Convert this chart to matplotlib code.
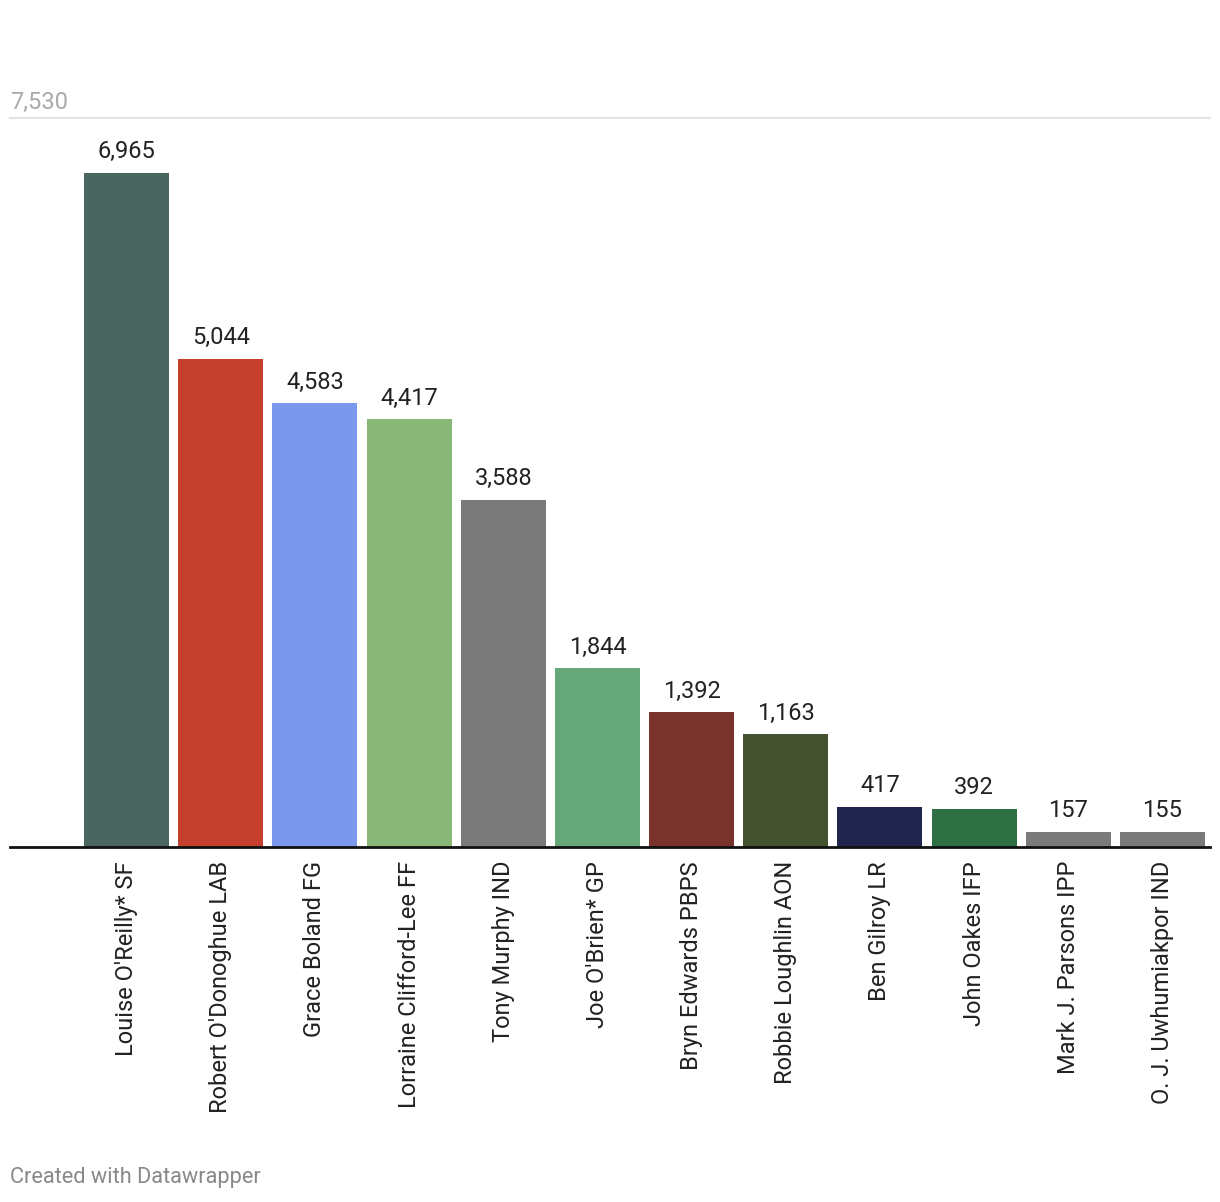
import matplotlib.pyplot as plt

plt.rcParams['font.family'] = ['Roboto', 'DejaVu Sans']

# candidates and first preference votes
candidates = ["Louise O'Reilly* SF", "Robert O'Donoghue LAB", "Grace Boland FG",
              "Lorraine Clifford-Lee FF", "Tony Murphy IND", "Joe O'Brien* GP",
              "Bryn Edwards PBPS", "Robbie Loughlin AON", "Ben Gilroy LR",
              "John Oakes IFP", "Mark J. Parsons IPP", "O. J. Uwhumiakpor IND"]
votes = [6965, 5044, 4583, 4417, 3588, 1844, 1392, 1163, 417, 392, 157, 155]
colors = ["#4a6660", "#c53f2f", "#7a99ee", "#89b777", "#7a7a7a", "#67a87a",
          "#79332c", "#44532d", "#20254f", "#2e6f43", "#7a7a7a", "#7a7a7a"]
y_max = 7530

W, H = 1220, 1202
fig = plt.figure(figsize=(W / 100, H / 100), dpi=100)
ax = fig.add_axes([10 / W, (H - 847) / H, 1200 / W, (847 - 118) / H])

x = range(len(candidates))
ax.bar(x, votes, width=0.9025, color=colors)
ax.set_xlim(-1.237, 11.505)
ax.set_ylim(0, y_max)

for i, v in enumerate(votes):
    ax.text(i, v + 100, f"{v:,}", ha='center', va='bottom', fontsize=17, color='#222222')

# top gridline + label
ax.axhline(y_max, color='#e3e3e3', lw=1.5, clip_on=False)
ax.text(0, 1.006, f"{y_max:,}", transform=ax.transAxes, ha='left', va='bottom',
        fontsize=17, color='#aaaaaa')
ax.axhline(0, color='#111111', lw=2, clip_on=False)

for s in ax.spines.values():
    s.set_visible(False)
ax.set_yticks([])
ax.set_xticks(list(x))
ax.set_xticklabels(candidates, rotation=90, fontsize=17, color='#222222', va='top')
ax.tick_params(axis='x', length=0, pad=10)

fig.text(10 / W, 1 - 1177 / H, "Created with Datawrapper", fontsize=15.7,
         color='#888888', ha='left', va='center')

fig.savefig("out.png", dpi=100, facecolor='white')
